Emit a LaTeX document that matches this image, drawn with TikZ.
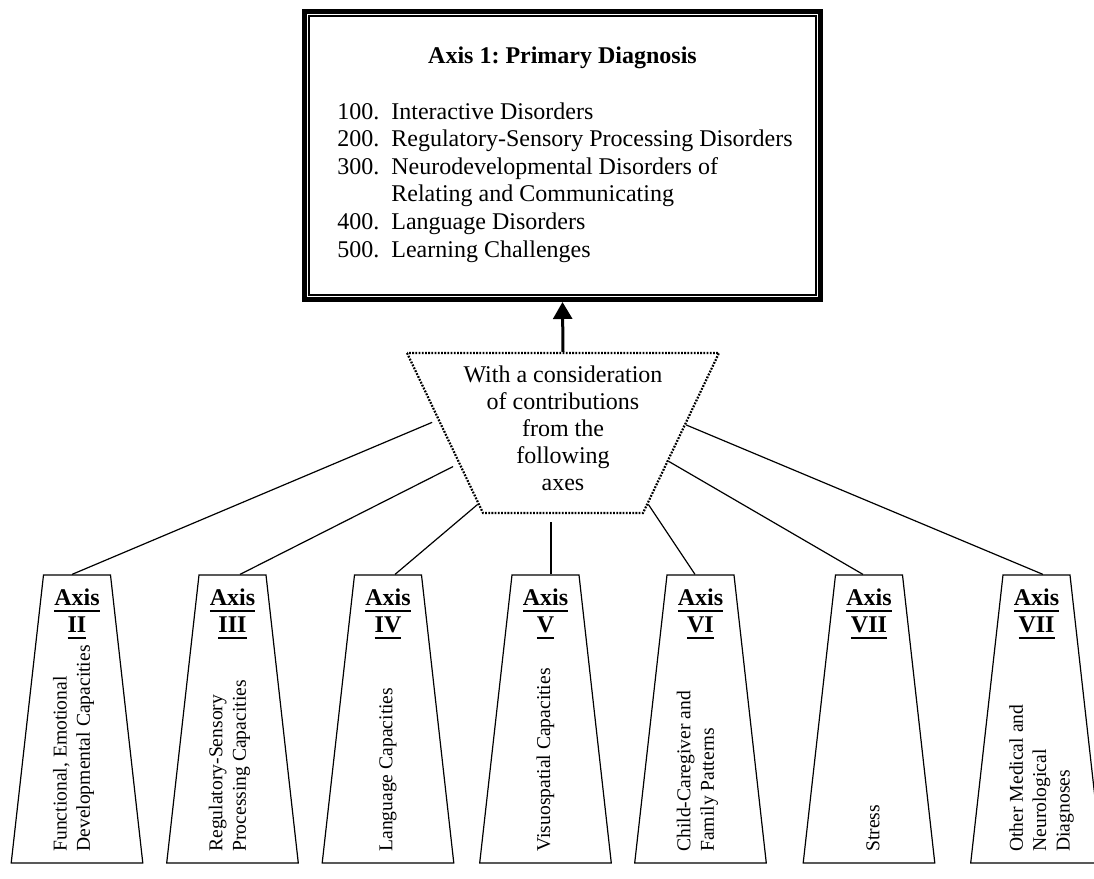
\documentclass[tikz,border=0pt,12pt]{standalone}
\usepackage{fontspec}
\setmainfont{Liberation Serif}
\usetikzlibrary{shapes.geometric,arrows.meta,calc,positioning}
\frenchspacing
\newcommand{\axisul}[1]{\setbox0\hbox{#1}\rlap{\rule[-3.4pt]{\wd0}{1.1pt}}\box0}
\tikzset{
  diagbox/.style={
    shape = rectangle,
    draw,
    line width = 2.5pt,
    minimum width = 258pt,
    minimum height = 144pt,
    inner sep = 0pt
  },
  % flipped, so that its long side is on top
  contribbox/.style={
    shape = trapezium,
    yscale = -1,
    draw,
    line width = 1.1pt,
    dash pattern = on 0.9pt off 0.7pt,
    trapezium left angle = 64.6,
    trapezium right angle = 64.6,
    inner xsep = 40pt,
    inner ysep = 40pt
  },
  axisbox/.style={
    shape = trapezium,
    draw,
    line width = 0.6pt,
    trapezium left angle = 83.6,
    trapezium right angle = 83.6,
    inner xsep = 16.75pt,
    inner ysep = 72pt
  },
  axislabel/.style={
    anchor = north,
    inner sep = 0pt,
    align = center,
    font = \fontsize{12}{13.8}\selectfont\bfseries
  },
  axistext/.style={
    rotate = 90,
    anchor = west,
    inner sep = 0pt,
    align = left,
    font = \fontsize{9.8}{11.7}\selectfont
  },
  link/.style={
    line width = 0.6pt
  }
}

\begin{document}
\begin{tikzpicture}[x=0.5pt,y=-0.5pt,font=\fontsize{12}{13.8}\selectfont]
\useasboundingbox (0,0) rectangle (1094,879);
% primary diagnosis
\node[diagbox] (diag) at (562.5,155.5) {};
\draw[line width=0.75pt] ([shift={(3.6pt,3.6pt)}]diag.south west) rectangle ([shift={(-3.6pt,-3.6pt)}]diag.north east);
\node[anchor=base, inner sep=0pt, font=\bfseries] (diagtitle) at (562.5,63) {Axis 1: Primary Diagnosis};
\node[anchor=base west, inner sep=0pt] (diaglist) at (337,119) {\begin{tabular}[t]{@{}l@{\hspace{6pt}}l@{}}
100. & Interactive Disorders\\
200. & Regulatory-Sensory Processing Disorders\\
300. & Neurodevelopmental Disorders of\\
     & Relating and Communicating\\
400. & Language Disorders\\
500. & Learning Challenges
\end{tabular}};
% contributions
\node[contribbox] (contrib) at (563,433) {};
\node[align=center, inner sep=0pt, font=\fontsize{12}{13.5}\selectfont] (contribtext) at (563,428) {With a consideration\\of contributions\\from the\\following\\axes};
\draw[line width=1.5pt, -{Triangle[width=9.5pt,length=8.5pt]}] (contrib.bottom side) -- (diag.south);
% other axes
\foreach \n/\cx/\num/\txt/\tsh in {
  1/77/II/{Functional, Emotional\\Developmental Capacities}/-3.5,
  2/232.5/III/{Regulatory-Sensory\\Processing Capacities}/-3,
  3/388/IV/{Language Capacities}/0,
  4/545.5/V/{Visuospatial Capacities}/0,
  5/700.5/VI/{Child-Caregiver and\\Family Patterns}/-3,
  6/869/VII/{Stress}/4,
  7/1036.5/VII/{Other Medical and\\Neurological\\Diagnoses}/5}{
  \node[axisbox] (ax\n) at (\cx,719) {};
  \node[axislabel] (axlab\n) at (\cx,588) {\axisul{Axis}\\\axisul{\num}};
  \node[axistext] (axtxt\n) at (\cx+\tsh,852) {\txt};
}
\draw[link, shorten >=3pt] ([xshift=-2.5pt]ax1.top side) -- ($(contrib.bottom left corner)!0.42!(contrib.top left corner)$);
\draw[link, shorten >=3pt] ([xshift=3.75pt]ax2.top side) -- ($(contrib.bottom left corner)!0.69!(contrib.top left corner)$);
\draw[link] ([xshift=3.5pt]ax3.top side) -- ($(contrib.bottom left corner)!0.94!(contrib.top left corner)$);
\coordinate (midlink) at ([xshift=2.75pt]ax4.top side);
\draw[link, shorten >=4pt] (midlink) -- (midlink |- contrib.top side);
\draw[link] ([xshift=-2.75pt]ax5.top side) -- ($(contrib.bottom right corner)!0.94!(contrib.top right corner)$);
\draw[link] ([xshift=-3pt]ax6.top side) -- ($(contrib.bottom right corner)!0.675!(contrib.top right corner)$);
\draw[link] ([xshift=3.25pt]ax7.top side) -- ($(contrib.bottom right corner)!0.45!(contrib.top right corner)$);
\end{tikzpicture}
\end{document}
